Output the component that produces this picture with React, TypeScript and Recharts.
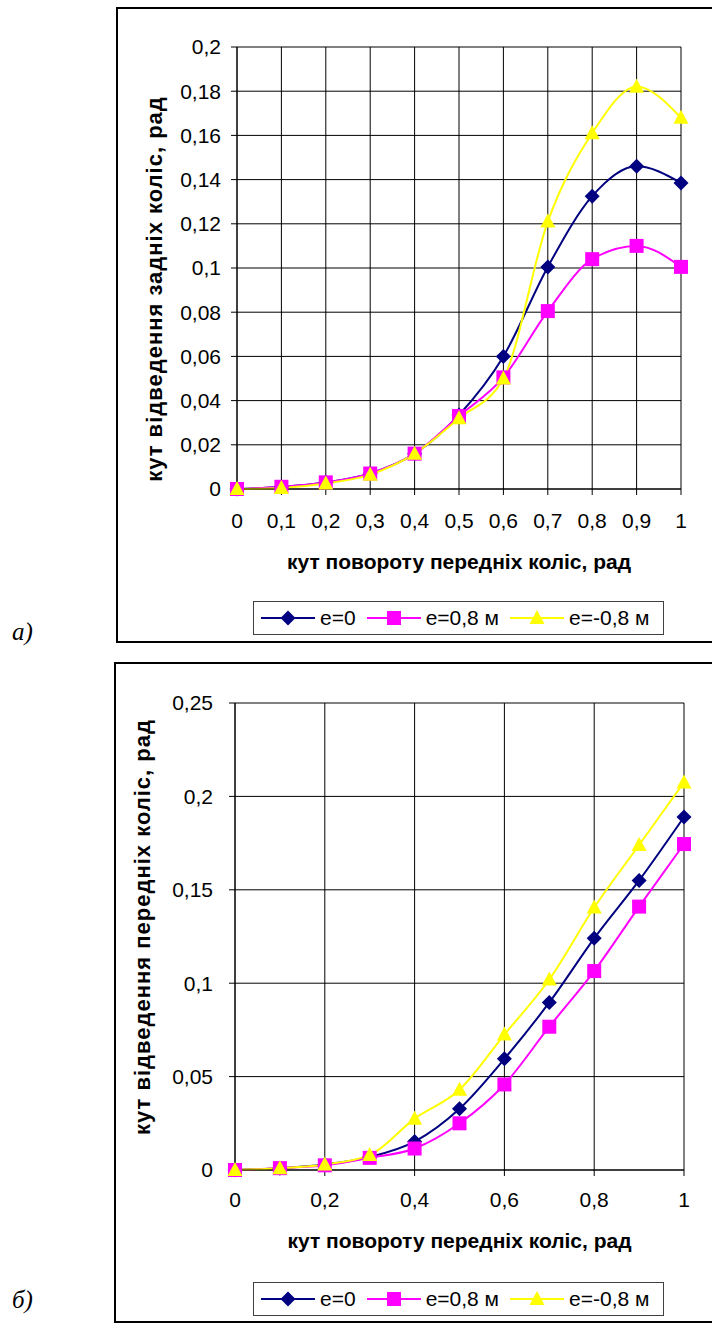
import React from "react";
import { LineChart, Line, XAxis, YAxis, CartesianGrid, Legend } from "recharts";

// кут повороту передніх коліс, рад
const angles = [0, 0.1, 0.2, 0.3, 0.4, 0.5, 0.6, 0.7, 0.8, 0.9, 1];

// а) кут відведення задніх коліс
const rearE0 = [0, 0.001, 0.003, 0.007, 0.016, 0.0335, 0.06, 0.1005, 0.1325, 0.146, 0.1385];
const rearE08 = [0, 0.001, 0.003, 0.007, 0.016, 0.033, 0.0505, 0.0805, 0.104, 0.11, 0.1005];
const rearEm08 = [0, 0.0005, 0.0025, 0.0065, 0.016, 0.032, 0.05, 0.121, 0.161, 0.182, 0.168];

// б) кут відведення передніх коліс
const frontE0 = [0, 0.001, 0.003, 0.007, 0.0152, 0.0328, 0.0595, 0.0897, 0.124, 0.155, 0.189];
const frontE08 = [0, 0.001, 0.0025, 0.0065, 0.0115, 0.025, 0.0458, 0.0767, 0.1065, 0.141, 0.1745];
const frontEm08 = [0, 0.001, 0.003, 0.008, 0.0275, 0.043, 0.0725, 0.102, 0.1405, 0.174, 0.2075];

const rearYTicks = [0, 0.02, 0.04, 0.06, 0.08, 0.1, 0.12, 0.14, 0.16, 0.18, 0.2];
const rearXTicks = [0, 0.1, 0.2, 0.3, 0.4, 0.5, 0.6, 0.7, 0.8, 0.9, 1];
const frontYTicks = [0, 0.05, 0.1, 0.15, 0.2, 0.25];
const frontXTicks = [0, 0.2, 0.4, 0.6, 0.8, 1];

const seriesNames = ["e=0", "e=0,8 м", "e=-0,8 м"];
const seriesColors = ["#000080", "#FF00FF", "#FFFF00"];
const seriesMarkers = ["diamond", "square", "triangle"];

const FONT = '"Liberation Sans", Arial, sans-serif';
const fmt = (v: number) => String(v).replace(".", ",");

const Marker = ({ kind, cx, cy, color }: { kind: string; cx: number; cy: number; color: string }) => {
  if (kind === "diamond") {
    const r = 7.5;
    return <polygon points={`${cx},${cy - r} ${cx + r},${cy} ${cx},${cy + r} ${cx - r},${cy}`} fill={color} />;
  }
  if (kind === "square") {
    return <rect x={cx - 7} y={cy - 7} width={14} height={14} fill={color} />;
  }
  return <polygon points={`${cx},${cy - 8} ${cx + 7.5},${cy + 6} ${cx - 7.5},${cy + 6}`} fill={color} />;
};

const AxisTitle = ({ tx, ty, rot, title }: any) => (
  <text
    x={tx}
    y={ty}
    transform={rot ? `rotate(-90, ${tx}, ${ty})` : undefined}
    textAnchor="middle"
    dominantBaseline="central"
    fontFamily={FONT}
    fontWeight="bold"
    fontSize={rot ? 22 : 21}
    letterSpacing={rot ? 1 : 0}
    fill="#000"
  >
    {title}
  </text>
);

const renderLegend = () => (
  <div
    style={{
      display: "flex",
      alignItems: "center",
      width: "100%",
      height: "100%",
      boxSizing: "border-box",
      border: "1px solid #404040",
      background: "#fff",
      fontFamily: FONT,
      fontSize: 21,
      color: "#000",
    }}
  >
    {seriesNames.map((name, i) => (
      <div key={name} style={{ display: "flex", alignItems: "center", marginLeft: i === 0 ? 7 : 11 }}>
        <svg width={54} height={20}>
          <line x1={0} y1={10} x2={54} y2={10} stroke={seriesColors[i]} strokeWidth={2} />
          <Marker kind={seriesMarkers[i]} cx={27} cy={10} color={seriesColors[i]} />
        </svg>
        <span style={{ marginLeft: 5 }}>{name}</span>
      </div>
    ))}
  </div>
);

type PanelProps = {
  frame: { left: number; top: number; width: number; height: number };
  plot: { left: number; top: number; right: number; bottom: number };
  series: number[][];
  yTicks: number[];
  xTicks: number[];
  yMax: number;
  yTitle: string;
  yTitleAt: [number, number];
  xTitleY: number;
  xTickMargin: number;
  yTickMargin: number;
  legendAt: [number, number];
};

const Panel = (p: PanelProps) => {
  const data = angles.map((x, i) => ({ x, s0: p.series[0][i], s1: p.series[1][i], s2: p.series[2][i] }));
  const yAxisW = p.plot.left - p.frame.left;
  const xAxisH = 50;
  const margin = {
    top: p.plot.top - p.frame.top,
    right: p.frame.left + p.frame.width - p.plot.right,
    bottom: p.frame.top + p.frame.height - p.plot.bottom - xAxisH,
    left: 0,
  };
  const plotCx = (p.plot.left + p.plot.right) / 2 - p.frame.left;
  return (
    <>
      <div style={{ position: "absolute", left: p.frame.left, top: p.frame.top }}>
        <LineChart width={p.frame.width} height={p.frame.height} data={data} margin={margin}>
          <CartesianGrid stroke="#000" strokeWidth={1} />
          <XAxis
            type="number"
            dataKey="x"
            domain={[0, 1]}
            ticks={p.xTicks}
            interval={0}
            tickFormatter={fmt}
            height={xAxisH}
            stroke="#000"
            tickSize={6}
            tickMargin={p.xTickMargin}
            tick={{ fill: "#000", fontSize: 21, fontFamily: FONT }}
            label={<AxisTitle tx={plotCx} ty={p.xTitleY - p.frame.top} title="кут повороту передніх коліс, рад" />}
          />
          <YAxis
            type="number"
            domain={[0, p.yMax]}
            ticks={p.yTicks}
            interval={0}
            tickFormatter={fmt}
            width={yAxisW}
            stroke="#000"
            tickSize={6}
            tickMargin={p.yTickMargin}
            tick={{ fill: "#000", fontSize: 21, fontFamily: FONT }}
            label={
              <AxisTitle
                tx={p.yTitleAt[0] - p.frame.left}
                ty={p.yTitleAt[1] - p.frame.top}
                rot
                title={p.yTitle}
              />
            }
          />
          <Legend
            layout="horizontal"
            verticalAlign="middle"
            align="center"
            content={renderLegend}
            wrapperStyle={{
              position: "absolute",
              left: p.legendAt[0] - p.frame.left,
              top: p.legendAt[1] - p.frame.top,
              width: 411,
              height: 34,
              bottom: "auto",
              right: "auto",
            }}
          />
          {["s0", "s1", "s2"].map((key, i) => (
            <Line
              key={key}
              type="monotone"
              dataKey={key}
              name={seriesNames[i]}
              stroke={seriesColors[i]}
              strokeWidth={2}
              isAnimationActive={false}
              dot={(d: any) => (
                <Marker key={`${key}-${d.index}`} kind={seriesMarkers[i]} cx={d.cx} cy={d.cy} color={seriesColors[i]} />
              )}
              activeDot={false}
            />
          ))}
        </LineChart>
      </div>
      <div
        style={{
          position: "absolute",
          left: p.frame.left,
          top: p.frame.top,
          width: p.frame.width,
          height: p.frame.height,
          boxSizing: "border-box",
          border: "2px solid #000",
          pointerEvents: "none",
        }}
      />
    </>
  );
};

const caption: React.CSSProperties = {
  position: "absolute",
  left: 12,
  fontFamily: '"Liberation Serif", "Times New Roman", serif',
  fontStyle: "italic",
  fontSize: 25,
  lineHeight: 1,
};

export default function App() {
  return (
    <div style={{ position: "absolute", left: 0, top: 0, width: 712, height: 1342, background: "#fff", overflow: "hidden" }}>
      <Panel
        frame={{ left: 116, top: 7, width: 600, height: 636 }}
        plot={{ left: 237, top: 47, right: 681, bottom: 489 }}
        series={[rearE0, rearE08, rearEm08]}
        yTicks={rearYTicks}
        xTicks={rearXTicks}
        yMax={0.2}
        yTitle="кут відведення задніх коліс, рад"
        yTitleAt={[154, 289]}
        xTitleY={561}
        xTickMargin={18}
        yTickMargin={10}
        legendAt={[253, 601]}
      />
      <Panel
        frame={{ left: 114, top: 662, width: 602, height: 661 }}
        plot={{ left: 235, top: 703, right: 684, bottom: 1170 }}
        series={[frontE0, frontE08, frontEm08]}
        yTicks={frontYTicks}
        xTicks={frontXTicks}
        yMax={0.25}
        yTitle="кут відведення передніх коліс, рад"
        yTitleAt={[142, 927]}
        xTitleY={1240}
        xTickMargin={16}
        yTickMargin={16}
        legendAt={[253, 1282]}
      />
      <div style={{ ...caption, top: 619 }}>а)</div>
      <div style={{ ...caption, top: 1287 }}>б)</div>
    </div>
  );
}
